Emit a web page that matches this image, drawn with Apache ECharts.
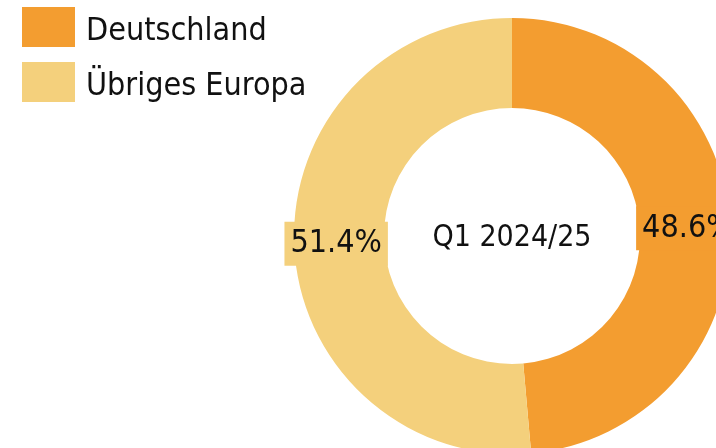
<!DOCTYPE html>
<html lang="de">
<head>
    <meta charset="utf-8">
    <title>Umsatz nach Regionen</title>
    <style>
        html, body { margin: 0; padding: 0; background: #fff; }
        #chart { width: 716px; height: 448px; }
    </style>
</head>
<body>
    <div id="chart"></div>
    <script src="https://cdn.jsdelivr.net/npm/echarts@6/dist/echarts.min.js"></script>
    <script>
        var regionen = ['Deutschland', 'Übriges Europa'];
        var anteile = [48.6, 51.4];
        var farben = ['#f39d30', '#f4d07c'];
        var mitteText = 'Q1 2024/25';

        var schrift = '"Liberation Sans Narrow", "DejaVu Sans Condensed", sans-serif';

        var daten = [];
        for (var i = 0; i < regionen.length; i++) {
            daten.push({ name: regionen[i], value: anteile[i], itemStyle: { color: farben[i] } });
        }

        var myChart = echarts.init(document.getElementById('chart'));
        var option = {
            animation: false,
            legend: {
                orient: 'vertical',
                left: 22,
                top: 7,
                padding: 0,
                itemWidth: 53,
                itemHeight: 40,
                itemGap: 14,
                icon: 'rect',
                formatter: '{t|{name}}',
                textStyle: {
                    fontFamily: schrift,
                    fontSize: 32,
                    color: '#111',
                    rich: {
                        t: {
                            fontFamily: schrift,
                            fontSize: 32,
                            color: '#111',
                            padding: [10, 0, 0, 6]
                        }
                    }
                },
                data: regionen
            },
            title: {
                text: mitteText,
                left: 512,
                top: 238,
                padding: 0,
                textAlign: 'center',
                textVerticalAlign: 'middle',
                textStyle: {
                    fontFamily: schrift,
                    fontSize: 30,
                    fontWeight: 'normal',
                    color: '#111'
                }
            },
            series: [{
                type: 'pie',
                center: [512, 236],
                radius: [128, 218],
                startAngle: 90,
                clockwise: true,
                label: {
                    show: true,
                    position: 'inside',
                    formatter: function (p) { return p.value.toFixed(1) + '%'; },
                    fontFamily: schrift,
                    fontSize: 32,
                    color: '#111',
                    backgroundColor: 'inherit',
                    padding: [6, 6, 6, 6]
                },
                labelLine: { show: false },
                emphasis: { disabled: true },
                data: daten
            }]
        };
        myChart.setOption(option);
    </script>
</body>
</html>
